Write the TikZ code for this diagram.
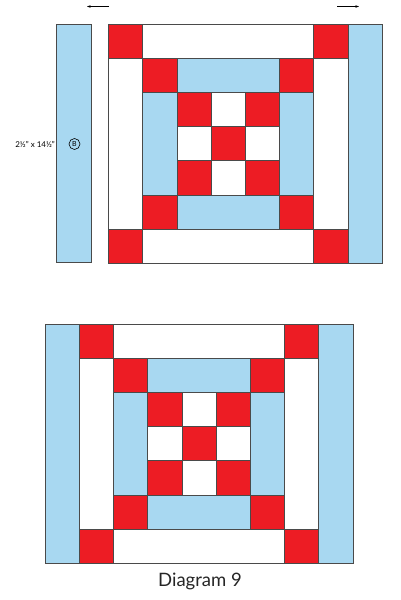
\documentclass[tikz,border=0pt]{standalone}
\usepackage{fontspec}
\setmainfont{Lato}
\usetikzlibrary{arrows.meta}
\definecolor{qred}{HTML}{ED1C24}
\definecolor{qblue}{HTML}{A8D8F1}
\definecolor{qedge}{HTML}{4A4A4A}
\tikzset{
  cellred/.style={fill=qred,draw=qedge,line width=0.7pt},
  cellblue/.style={fill=qblue,draw=qedge,line width=0.7pt},
  cellwhite/.style={fill=white,draw=qedge,line width=0.7pt},
  arr/.style={draw=black,line width=0.6pt,-{Stealth[length=3.5pt,width=2.5pt]}},
  lbl/.style={font=\fontsize{8}{9}\selectfont,inner sep=0pt},
}
\newcommand\qblockdraw{%
  \foreach \a/\b in {0/0,6/0,0/6,6/6,1/1,5/1,1/5,5/5,2/2,4/2,3/3,2/4,4/4}
    {\path[cellred] (\a,\b) rectangle ++(1,1);}
  \foreach \a/\b/\c/\d in {2/1/5/2,2/5/5/6,1/2/2/5,5/2/6/5}
    {\path[cellblue] (\a,\b) rectangle (\c,\d);}
  \foreach \a/\b/\c/\d in {1/0/6/1,1/6/6/7,0/1/1/6,6/1/7/6,3/2/4/3,2/3/3/4,4/3/5/4,3/4/4/5}
    {\path[cellwhite] (\a,\b) rectangle (\c,\d);}
}
\begin{document}
\begin{tikzpicture}[x=1pt,y=-1pt]
\useasboundingbox (0,0) rectangle (400,600);
% top: separate border strip
\path[cellblue] (56,24) rectangle (91,262.7);
% top block
\begin{scope}[shift={(108.6,24)},x=34.2pt,y=-34.2pt]
  \qblockdraw
  \path[cellblue] (7,0) rectangle (8,7);
\end{scope}
% arrows
\coordinate (la1) at (109,6.5);
\coordinate (la2) at (87,6.5);
\coordinate (ra1) at (337,6.5);
\coordinate (ra2) at (359,6.5);
\draw[arr] (la1) -- (la2);
\draw[arr] (ra1) -- (ra2);
% label
\node[lbl,anchor=east] (size) at (55,144) {2½" x 14½"};
\node[draw=black,circle,line width=0.6pt,inner sep=0pt,minimum size=11pt,
      font=\fontsize{7}{7}\selectfont] (b) at (74.5,144) {B};
% bottom block
\begin{scope}[shift={(45.1,324)},x=34.2pt,y=-34.2pt]
  \path[cellblue] (0,0) rectangle (1,7);
  \begin{scope}[shift={(1,0)}]
    \qblockdraw
  \end{scope}
  \path[cellblue] (8,0) rectangle (9,7);
\end{scope}
\node[font=\fontsize{18.5}{20}\selectfont,text=black!85] (cap) at (200,581) {Diagram 9};
\end{tikzpicture}
\end{document}
